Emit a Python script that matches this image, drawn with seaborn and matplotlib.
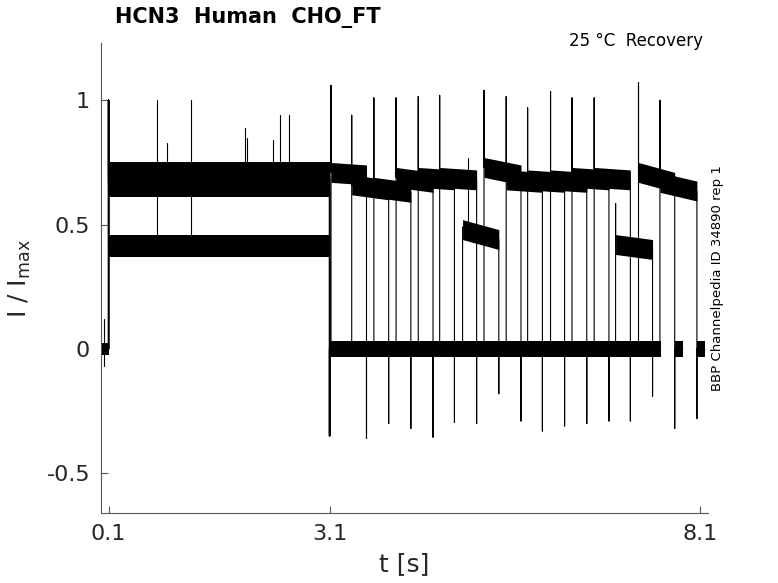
import numpy as np
import pandas as pd
import matplotlib
matplotlib.use("Agg")
import matplotlib.pyplot as plt
import seaborn as sns

# --- datos ---

# protocolo (s)
pulse1_on = 0.1
pulse1_off = 3.09
tail_len = 0.11

# un valor por sweep (16 sweeps superpuestos)
pulse2_on = [3.11, 3.39, 3.69, 3.99, 4.29, 4.58, 4.89, 5.18,
             5.48, 5.77, 6.08, 6.37, 6.67, 6.96, 7.27, 7.56]
pulse2_off = [3.59, 3.89, 4.19, 4.49, 4.78, 5.08, 5.38, 5.68,
              5.97, 6.27, 6.57, 6.87, 7.16, 7.46, 7.76, 8.06]
pulse1_level = [0.69, 0.67, 0.65, 0.68, 0.70, 0.66, 0.41, 0.71,
                0.67, 0.68, 0.66, 0.69, 0.67, 0.42, 0.70, 0.65]
pulse2_level_on = [0.71, 0.66, 0.65, 0.69, 0.69, 0.69, 0.48, 0.73,
                   0.68, 0.68, 0.68, 0.69, 0.69, 0.42, 0.71, 0.67]
pulse2_level_off = [0.70, 0.64, 0.63, 0.67, 0.68, 0.68, 0.44, 0.70,
                    0.67, 0.67, 0.67, 0.68, 0.68, 0.40, 0.67, 0.635]
pulse2_peak = [1.06, 0.94, 1.01, 1.01, 1.015, 1.02, 0.49, 1.04,
               1.015, 0.97, 1.035, 1.01, 1.01, 0.585, 1.07, 1.0]
pulse2_trough = [-0.36, -0.30, -0.32, -0.355, -0.295, -0.30, -0.18, -0.29,
                 -0.33, -0.31, -0.30, -0.29, -0.29, -0.19, -0.32, -0.28]
pulse1_peak = 1.0
pulse1_trough = -0.35

# ancho del ruido (mitad)
noise_p1 = 0.04
noise_p2 = 0.04
noise_zero = 0.032

# artefactos sueltos (t, desde, hasta)
artifact_t = [0.04, 0.76, 0.89, 1.22, 1.94, 1.97, 2.32, 2.42, 2.54, 4.97]
artifact_lo = [-0.07, 0.43, 0.68, 0.43, 0.68, 0.68, 0.68, 0.68, 0.68, 0.48]
artifact_hi = [0.12, 1.00, 0.83, 1.00, 0.89, 0.85, 0.84, 0.94, 0.94, 0.77]

# --- tabla para seaborn ---
rows = []
for k in range(len(pulse2_on)):
    pts = [(0.0, 0.0), (pulse1_on, 0.0), (pulse1_on, pulse1_peak),
           (pulse1_on, pulse1_level[k]), (pulse1_off, pulse1_level[k]),
           (pulse1_off, pulse1_trough), (pulse1_off, 0.0),
           (pulse2_on[k], 0.0), (pulse2_on[k], pulse2_peak[k]),
           (pulse2_on[k], pulse2_level_on[k]), (pulse2_off[k], pulse2_level_off[k]),
           (pulse2_off[k], pulse2_trough[k]), (pulse2_off[k], 0.0),
           (pulse2_off[k] + tail_len, 0.0)]
    for t, i in pts:
        rows.append({"sweep": f"s{k}", "t": t, "I": i})
for j in range(len(artifact_t)):
    rows.append({"sweep": f"a{j}", "t": artifact_t[j], "I": artifact_lo[j]})
    rows.append({"sweep": f"a{j}", "t": artifact_t[j], "I": artifact_hi[j]})
df = pd.DataFrame(rows)

# --- grafico ---
sns.set_theme(style="ticks")
plt.rcParams["font.family"] = ["DejaVu Sans"]
plt.rcParams["axes.unicode_minus"] = False
plt.rcParams["mathtext.default"] = "regular"

fig = plt.figure(figsize=(7.78, 5.83), dpi=100)
ax = fig.add_axes([0.130, 0.120, 0.780, 0.806])

# bandas de ruido
for k in range(len(pulse2_on)):
    ax.fill_between([0.0, pulse1_on], -noise_zero * 0.7, noise_zero * 0.7, color="black", lw=0)
    ax.fill_between([pulse1_on, pulse1_off], pulse1_level[k] - noise_p1,
                    pulse1_level[k] + noise_p1, color="black", lw=0)
    ax.fill_between([pulse1_off, pulse2_on[k]], -noise_zero, noise_zero, color="black", lw=0)
    lv = np.array([pulse2_level_on[k], pulse2_level_off[k]])
    ax.fill_between([pulse2_on[k], pulse2_off[k]], lv - noise_p2, lv + noise_p2,
                    color="black", lw=0)
    ax.fill_between([pulse2_off[k], pulse2_off[k] + tail_len], -noise_zero, noise_zero,
                    color="black", lw=0)

sns.lineplot(data=df, x="t", y="I", units="sweep", estimator=None, sort=False,
             color="black", lw=0.8, legend=False, ax=ax)

ax.set_xlim(0.0, 8.21)
ax.set_ylim(-0.66, 1.23)
ax.set_xticks([0.1, 3.1, 8.1])
ax.set_xticklabels(["0.1", "3.1", "8.1"])
ax.set_yticks([-0.5, 0, 0.5, 1])
ax.set_yticklabels(["-0.5", "0", "0.5", "1"])
ax.tick_params(direction="in", length=5, width=0.8, colors="#555555",
               labelcolor="#262626", labelsize=16, pad=8)
sns.despine(ax=ax)
for s in ["left", "bottom"]:
    ax.spines[s].set_color("#555555")
    ax.spines[s].set_linewidth(0.8)

ax.set_xlabel("t [s]", fontsize=18, color="#262626", labelpad=6)
ax.set_ylabel("I / I$_{max}$", fontsize=18, color="#262626", labelpad=10)

fig.text(115 / 778, 1 - 18 / 583, "HCN3  Human  CHO_FT", fontsize=15,
         fontweight="bold", ha="left", va="center", color="black")
fig.text(703 / 778, 1 - 41 / 583, "25 °C  Recovery", fontsize=12,
         ha="right", va="center", color="black")
fig.text(717 / 778, 1 - 278 / 583, "BBP Channelpedia ID 34890 rep 1", fontsize=9.5,
         rotation=90, ha="center", va="center", color="black")

fig.savefig("out.png", dpi=100)
